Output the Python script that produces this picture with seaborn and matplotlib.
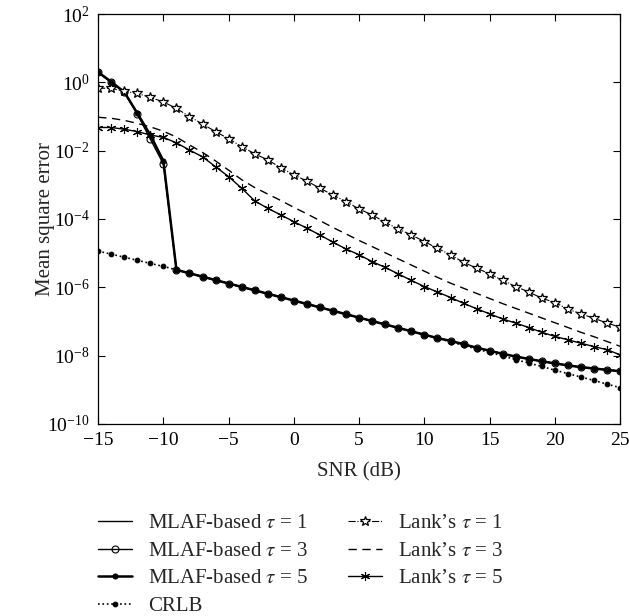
import numpy as np
import pandas as pd
import matplotlib
matplotlib.use("Agg")
import matplotlib.pyplot as plt
import seaborn as sns

snr_db = list(range(-15, 26))

# log10 of mean square error
mlaf_tau1_log = [0.30, 0.02, -0.28, -0.90, -1.54, -2.30, -5.49, -5.59, -5.69, -5.79,
                 -5.89, -5.99, -6.09, -6.19, -6.29, -6.39, -6.49, -6.59, -6.69, -6.79,
                 -6.89, -6.99, -7.09, -7.19, -7.29, -7.39, -7.49, -7.57, -7.67, -7.77,
                 -7.86, -7.95, -8.03, -8.10, -8.17, -8.23, -8.29, -8.34, -8.38, -8.42, -8.46]
mlaf_tau3_log = [0.30, 0.00, -0.28, -0.93, -1.66, -2.39, -5.49, -5.59, -5.69, -5.79,
                 -5.89, -5.99, -6.09, -6.19, -6.29, -6.39, -6.49, -6.59, -6.69, -6.79,
                 -6.89, -6.99, -7.09, -7.19, -7.29, -7.39, -7.49, -7.57, -7.67, -7.77,
                 -7.86, -7.95, -8.03, -8.10, -8.17, -8.23, -8.29, -8.34, -8.38, -8.42, -8.46]
mlaf_tau5_log = [0.30, 0.02, -0.28, -0.90, -1.54, -2.30, -5.49, -5.59, -5.69, -5.79,
                 -5.89, -5.99, -6.09, -6.19, -6.29, -6.39, -6.49, -6.59, -6.69, -6.79,
                 -6.89, -6.99, -7.09, -7.19, -7.29, -7.39, -7.49, -7.57, -7.67, -7.77,
                 -7.86, -7.95, -8.03, -8.10, -8.17, -8.23, -8.29, -8.34, -8.38, -8.42, -8.46]
crlb_log = [-4.94, -5.03, -5.12, -5.21, -5.30, -5.39, -5.49, -5.59, -5.69, -5.79,
            -5.89, -5.99, -6.09, -6.19, -6.29, -6.39, -6.49, -6.59, -6.69, -6.79,
            -6.89, -6.99, -7.09, -7.19, -7.29, -7.39, -7.49, -7.60, -7.70, -7.81,
            -7.91, -8.01, -8.12, -8.22, -8.32, -8.43, -8.53, -8.63, -8.73, -8.84, -8.94]
lank_tau1_log = [-0.17, -0.17, -0.26, -0.32, -0.44, -0.57, -0.76, -1.00, -1.22, -1.44,
                 -1.65, -1.88, -2.09, -2.27, -2.50, -2.71, -2.89, -3.10, -3.30, -3.49,
                 -3.71, -3.88, -4.10, -4.29, -4.47, -4.66, -4.86, -5.05, -5.27, -5.44,
                 -5.61, -5.80, -5.98, -6.14, -6.32, -6.45, -6.64, -6.78, -6.91, -7.05, -7.17]
lank_tau3_log = [-1.02, -1.05, -1.11, -1.20, -1.30, -1.43, -1.60, -1.83, -2.05, -2.30,
                 -2.57, -2.85, -3.08, -3.27, -3.46, -3.66, -3.85, -4.05, -4.25, -4.44,
                 -4.63, -4.81, -4.99, -5.17, -5.35, -5.53, -5.71, -5.88, -6.03, -6.18,
                 -6.33, -6.48, -6.62, -6.76, -6.90, -7.04, -7.18, -7.32, -7.45, -7.59, -7.73]
lank_tau5_log = [-1.32, -1.32, -1.37, -1.44, -1.54, -1.61, -1.77, -1.98, -2.18, -2.47,
                 -2.76, -3.10, -3.47, -3.69, -3.88, -4.08, -4.27, -4.47, -4.68, -4.88,
                 -5.05, -5.25, -5.42, -5.61, -5.80, -5.98, -6.14, -6.30, -6.47, -6.63,
                 -6.78, -6.93, -7.05, -7.18, -7.32, -7.44, -7.54, -7.64, -7.74, -7.83, -7.98]

labels = [r"MLAF-based $\tau$ = 1", r"MLAF-based $\tau$ = 3", r"MLAF-based $\tau$ = 5",
          "CRLB", r"Lank’s $\tau$ = 1", r"Lank’s $\tau$ = 3", r"Lank’s $\tau$ = 5"]

sns.set_style("ticks")
plt.rcParams["font.family"] = ["Liberation Serif", "DejaVu Serif"]
plt.rcParams["mathtext.fontset"] = "stix"
plt.rcParams["axes.unicode_minus"] = True

fig = plt.figure(figsize=(6.29, 6.16), dpi=100)
ax = fig.add_axes([0.156, 0.312, 0.830, 0.665])

series = [mlaf_tau1_log, mlaf_tau3_log, mlaf_tau5_log, crlb_log,
          lank_tau1_log, lank_tau3_log, lank_tau5_log]
styles = [
    dict(linestyle="-", linewidth=1.0, marker=None),
    dict(linestyle="-", linewidth=1.0, marker="o", markersize=5.0,
         markerfacecolor="none", markeredgecolor="black", markeredgewidth=0.8),
    dict(linestyle="-", linewidth=1.8, marker="o", markersize=3.6,
         markerfacecolor="black", markeredgecolor="black"),
    dict(linestyle=":", linewidth=1.2, marker="o", markersize=3.4,
         markerfacecolor="black", markeredgecolor="black"),
    dict(linestyle="-.", linewidth=0.8, marker="*", markersize=7.5,
         markerfacecolor="white", markeredgecolor="black", markeredgewidth=0.9),
    dict(linestyle=(0, (6, 4)), linewidth=1.0, marker=None),
    dict(linestyle="-", linewidth=1.0, marker=(6, 2, 0), markersize=6.5,
         markeredgecolor="black", markeredgewidth=0.8),
]

for lab, vals, st in zip(labels, series, styles):
    df = pd.DataFrame({"snr": snr_db, "mse": np.power(10.0, vals)})
    sns.lineplot(data=df, x="snr", y="mse", ax=ax, color="black", label=lab,
                 legend=False, **st)
handles = ax.get_lines()

ax.set_yscale("log")
ax.set_xlim(-15, 25)
ax.set_ylim(1e-10, 1e2)
ax.set_xticks([-15, -10, -5, 0, 5, 10, 15, 20, 25])
ax.set_xticklabels(["\u221215", "\u221210", "\u22125", "0", "5", "10", "15", "20", "25"])
ax.set_yticks([1e-10, 1e-8, 1e-6, 1e-4, 1e-2, 1e0, 1e2])
ax.yaxis.set_minor_locator(matplotlib.ticker.NullLocator())
ax.tick_params(axis="both", which="major", direction="in", top=True, right=True,
               length=5, width=0.8, labelsize=14, pad=6, colors="black")
for sp in ax.spines.values():
    sp.set_visible(True)
    sp.set_linewidth(0.9)
    sp.set_color("black")
ax.set_xlabel("SNR (dB)", fontsize=15)
ax.set_ylabel("Mean square error", fontsize=15)
ax.xaxis.set_label_coords(0.5, -0.093)
ax.yaxis.set_label_coords(-0.083, 0.5)

fig.legend(handles=handles, labels=labels, loc="upper left",
           bbox_to_anchor=(0.156, 0.166), ncol=2, frameon=False, fontsize=15,
           handlelength=1.65, handletextpad=0.75, columnspacing=1.9,
           labelspacing=0.38, borderaxespad=0, borderpad=0)

fig.savefig("out.png", dpi=100, facecolor="white")
